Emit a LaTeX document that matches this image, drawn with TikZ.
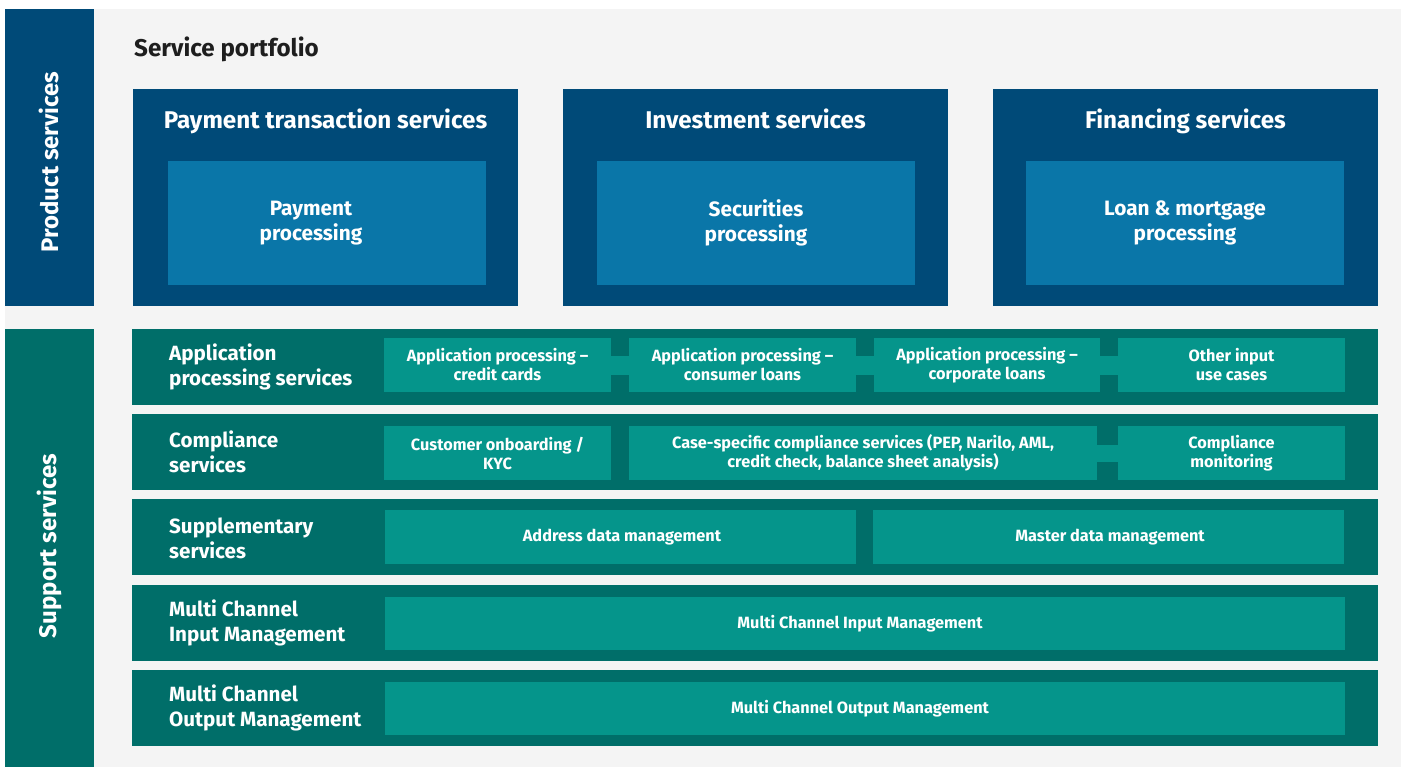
\documentclass[tikz,border=0pt]{standalone}
\usepackage{fontspec}
\setmainfont{Fira Sans}
\definecolor{navy}{HTML}{004A78}
\definecolor{navyin}{HTML}{0A76A8}
\definecolor{tealdk}{HTML}{006E69}
\definecolor{tealin}{HTML}{05958B}
\definecolor{bggray}{HTML}{F4F4F4}
\definecolor{headtxt}{HTML}{1E1E1E}
\tikzset{
  base/.style={inner sep=0pt, outer sep=0pt, text=white, font=\bfseries, align=center},
  navybox/.style={base, fill=navy},
  innerfont/.style={font=\bfseries\fontsize{20.8}{25}\selectfont},
  smallfont/.style={font=\bfseries\fontsize{16.3}{19}\selectfont},
  navyinner/.style={base, fill=navyin, innerfont},
  tealrow/.style={base, fill=tealdk},
  tealbox/.style={base, fill=tealin, smallfont},
  sidelabel/.style={inner sep=0pt, text=white, font=\bfseries\fontsize{24}{25}\selectfont, rotate=90},
  titlelabel/.style={inner sep=0pt, text=white, font=\bfseries\fontsize{24.2}{25}\selectfont, anchor=base},
  rowlabel/.style={inner sep=0pt, text=white, font=\bfseries\fontsize{20.6}{25}\selectfont, align=left, anchor=west},
  link/.style={fill=tealin},
}
\newcommand\Rect[7]{\node[#6, minimum width={(#4)-(#2)}, minimum height={(#5)-(#3)}] (#1) at ({((#2)+(#4))/2},{((#3)+(#5))/2}) {#7};}
\begin{document}
\begin{tikzpicture}[x=1pt,y=-1pt]
\useasboundingbox (0,0) rectangle (1405,767);
\fill[bggray] (5,9) rectangle (1401,767);
% side bars
\Rect{pbar}{5}{9}{94}{306}{navybox}{}
\Rect{sbar}{5}{329}{94}{767}{tealrow}{}
\node[sidelabel] (plab) at (49,162) {Product services};
\node[sidelabel] (slab) at (49,546) {Support services};
% heading
\node[inner sep=0pt, anchor=base west, text=headtxt, font=\bfseries\fontsize{24.2}{25}\selectfont] (head) at (134,57) {Service portfolio};
% product boxes
\Rect{pay}{133}{89}{518}{306}{navybox}{}
\Rect{inv}{563}{89}{948}{306}{navybox}{}
\Rect{fin}{993}{89}{1378}{306}{navybox}{}
\node[titlelabel] (payt) at (325.5,129) {Payment transaction services};
\node[titlelabel] (invt) at (755.5,129) {Investment services};
\node[titlelabel] (fint) at (1185.5,129) {Financing services};
\Rect{payi}{168}{161}{486}{285}{navyinner}{}
\node[base, innerfont] (payit) at (311,223) {Payment\\processing};
\Rect{invi}{597}{161}{915}{285}{navyinner}{Securities\\processing}
\Rect{fini}{1026}{161}{1344}{285}{navyinner}{Loan \& mortgage\\processing}
% support rows
\Rect{r1}{132}{329}{1378}{405}{tealrow}{}
\Rect{r2}{132}{414}{1378}{490}{tealrow}{}
\Rect{r3}{132}{499}{1378}{575}{tealrow}{}
\Rect{r4}{132}{585}{1378}{661}{tealrow}{}
\Rect{r5}{132}{670}{1378}{746}{tealrow}{}
\node[rowlabel] (l1) at (169,367) {Application\\processing services};
\node[rowlabel] (l2) at (169,452) {Compliance\\services};
\node[rowlabel] (l3) at (169,538) {Supplementary\\services};
\node[rowlabel] (l4) at (169,623) {Multi Channel\\Input Management};
\node[rowlabel] (l5) at (169,708) {Multi Channel\\Output Management};
% application processing
\Rect{a1}{384}{338}{611}{392}{tealbox}{Application processing --\\credit cards}
\Rect{a2}{629}{338}{856}{392}{tealbox}{Application processing --\\consumer loans}
\Rect{a3}{874}{338}{1100}{392}{tealbox}{Application processing --\\corporate loans}
\Rect{a4}{1118}{338}{1345}{392}{tealbox}{Other input\\use cases}
\fill[link] ([yshift=9.5pt]a1.east) rectangle ([yshift=-9.5pt]a2.west);
\fill[link] ([yshift=9.5pt]a2.east) rectangle ([yshift=-9.5pt]a3.west);
\fill[link] ([yshift=9.5pt]a3.east) rectangle ([yshift=-9.5pt]a4.west);
% compliance
\Rect{c1}{384}{426}{611}{480}{tealbox}{Customer onboarding /\\KYC}
\Rect{c2}{629}{426}{1097}{480}{tealbox}{Case-specific compliance services (PEP, Narilo, AML,\\credit check, balance sheet analysis)}
\Rect{c3}{1118}{426}{1345}{480}{tealbox}{Compliance\\monitoring}
\fill[link] ([yshift=8.5pt]c2.east) rectangle ([yshift=-8.5pt]c3.west);
% supplementary
\Rect{s1}{385}{510}{856}{564}{tealbox}{}
\node[base, smallfont] (s1t) at (622,537) {Address data management};
\Rect{s2}{873}{510}{1344}{564}{tealbox}{}
\node[base, smallfont] (s2t) at (1110,537) {Master data management};
% input/output
\Rect{i1}{385}{597}{1345}{650}{tealbox}{}
\node[base, smallfont] (i1t) at (860,623.5) {Multi Channel Input Management};
\Rect{o1}{385}{682}{1345}{735}{tealbox}{}
\node[base, smallfont] (o1t) at (860,708.5) {Multi Channel Output Management};
\end{tikzpicture}
\end{document}
